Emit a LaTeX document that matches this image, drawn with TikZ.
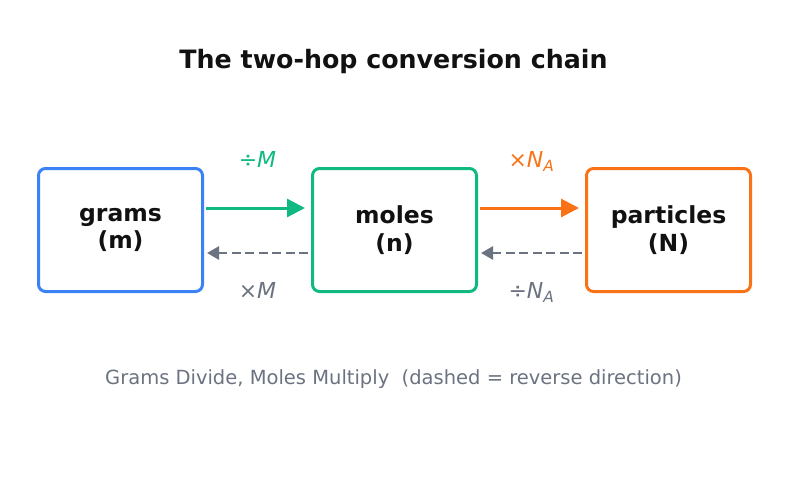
\documentclass[tikz,border=0pt]{standalone}
\usepackage{fontspec}
\setmainfont{DejaVu Sans}
\usepackage{xcolor}
\usetikzlibrary{arrows.meta,positioning}

\definecolor{gblue}{HTML}{3B82F6}
\definecolor{mgreen}{HTML}{10B981}
\definecolor{porange}{HTML}{F97316}
\definecolor{cgray}{HTML}{6B7280}
\definecolor{ink}{HTML}{111111}

\begin{document}
\begin{tikzpicture}[x=1pt,y=-1pt,line width=3pt,
  qty/.style={draw,rounded corners=7pt,fill=white,minimum width=164pt,minimum height=123pt,
    align=center,text=ink,font=\fontsize{23.5}{25.5}\selectfont\bfseries},
  fwd/.style={-{Triangle[length=18pt,width=18pt]},shorten <=2pt,shorten >=6pt},
  back/.style={cgray,dashed,dash pattern=on 9pt off 4.5pt,line width=2.5pt,
    -{Triangle[length=12pt,width=13pt]},shorten <=3pt,shorten >=3pt},
  op/.style={font=\fontsize{22}{26}\selectfont,anchor=base}]
\useasboundingbox (0,0) rectangle (787,480);

\node[font=\fontsize{25.3}{30}\selectfont\bfseries,text=ink] (title) at (393.5,62) {The two-hop conversion chain};

\node[qty,draw=gblue] (grams) at (120.5,230) {\raisebox{-6pt}{grams}\\[2pt]\raisebox{-6pt}{(m)}};
\node[qty,draw=mgreen] (moles) [right=107pt of grams] {\raisebox{-6pt}{moles}\\[2pt]\raisebox{-6pt}{(n)}};
\node[qty,draw=porange] (particles) [right=107pt of moles] {\raisebox{-6pt}{particles}\\[2pt]\raisebox{-6pt}{(N)}};

% forward: multiply / divide
\draw[fwd,mgreen] ([yshift=22pt]grams.east) -- ([yshift=22pt]moles.west)
  node[midway,yshift=41pt,op,text=mgreen] (divM) {÷\textit{M}};
\draw[fwd,porange] ([yshift=22pt]moles.east) -- ([yshift=22pt]particles.west)
  node[midway,yshift=41pt,op,text=porange] (timesNA) {×\textit{N}\textsubscript{\textit{A}}};

% reverse direction
\draw[back] ([yshift=-23pt]moles.west) -- ([yshift=-23pt]grams.east)
  node[midway,yshift=-45pt,op,text=cgray] (timesM) {×\textit{M}};
\draw[back] ([yshift=-23pt]particles.west) -- ([yshift=-23pt]moles.east)
  node[midway,yshift=-45pt,op,text=cgray] (divNA) {÷\textit{N}\textsubscript{\textit{A}}};

\node[font=\fontsize{19.5}{23}\selectfont,text=cgray] (note) at (393.5,379)
  {Grams Divide, Moles Multiply\ \ (dashed = reverse direction)};
\end{tikzpicture}
\end{document}
